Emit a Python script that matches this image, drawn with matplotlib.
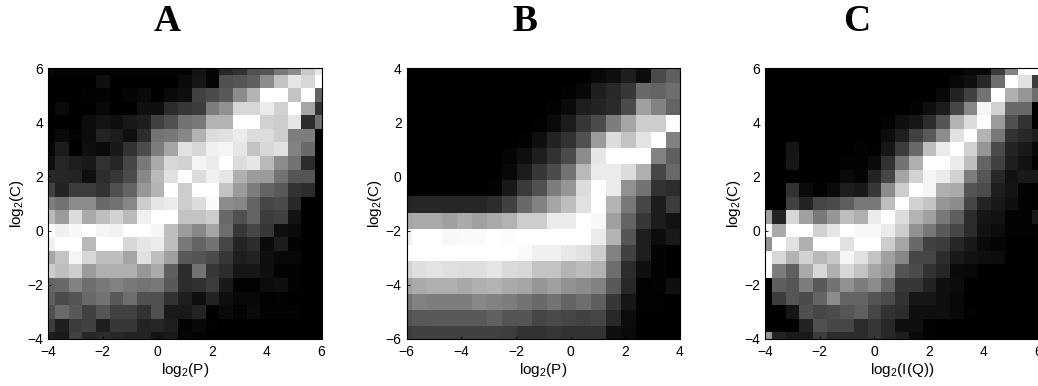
import matplotlib

matplotlib.use("Agg")
import matplotlib.pyplot as plt
import numpy as np

plt.rcParams["font.family"] = ["Liberation Sans", "DejaVu Sans"]
plt.rcParams["mathtext.default"] = "regular"

# grey levels, top row first
panel_a = [
    [8, 3, 3, 3, 3, 3, 3, 3, 3, 3, 3, 20, 5, 40, 50, 80, 85, 120, 140, 200, 230],
    [0, 0, 0, 0, 15, 0, 0, 0, 0, 0, 10, 22, 5, 80, 85, 95, 140, 195, 230, 215, 255],
    [0, 0, 0, 2, 2, 0, 5, 10, 0, 10, 15, 65, 75, 90, 140, 180, 255, 255, 195, 255, 100],
    [0, 10, 0, 0, 8, 0, 0, 15, 15, 45, 55, 60, 125, 145, 215, 215, 235, 210, 255, 165, 50],
    [0, 0, 0, 12, 20, 15, 25, 30, 65, 80, 115, 120, 180, 180, 255, 255, 210, 205, 230, 45, 110],
    [0, 10, 3, 12, 35, 28, 15, 45, 115, 120, 135, 180, 220, 225, 235, 220, 220, 205, 125, 125, 0],
    [5, 28, 0, 15, 10, 25, 50, 75, 125, 165, 225, 215, 240, 245, 230, 195, 215, 225, 130, 105, 0],
    [15, 38, 30, 25, 50, 38, 70, 120, 170, 215, 210, 245, 235, 255, 220, 230, 185, 140, 115, 45, 0],
    [40, 38, 35, 15, 45, 55, 75, 135, 185, 225, 255, 220, 240, 230, 175, 155, 155, 115, 85, 85, 0],
    [65, 35, 60, 60, 50, 80, 100, 150, 180, 255, 205, 255, 255, 195, 155, 125, 100, 90, 50, 45, 0],
    [125, 115, 140, 140, 105, 115, 135, 205, 230, 235, 205, 220, 250, 140, 135, 100, 70, 75, 40, 0, 0],
    [185, 155, 220, 170, 190, 210, 185, 240, 255, 255, 195, 195, 205, 105, 80, 100, 60, 65, 18, 0, 0],
    [255, 240, 248, 255, 245, 242, 255, 255, 245, 190, 155, 135, 165, 110, 55, 70, 55, 15, 10, 0, 0],
    [240, 255, 255, 185, 255, 255, 215, 230, 235, 190, 120, 100, 115, 70, 35, 45, 10, 28, 3, 0, 0],
    [165, 195, 245, 215, 190, 190, 165, 225, 190, 160, 90, 85, 75, 55, 30, 35, 15, 8, 8, 0, 0],
    [205, 190, 205, 155, 175, 175, 175, 150, 170, 95, 45, 115, 55, 45, 22, 22, 15, 3, 3, 0, 0],
    [100, 105, 130, 110, 120, 130, 120, 115, 120, 90, 45, 48, 60, 25, 2, 2, 12, 15, 3, 0, 0],
    [95, 75, 85, 105, 115, 90, 110, 80, 80, 50, 30, 15, 35, 15, 8, 8, 2, 3, 0, 0, 0],
    [80, 105, 90, 65, 85, 65, 65, 50, 80, 25, 25, 35, 0, 10, 3, 10, 3, 3, 3, 0, 0],
    [60, 30, 60, 65, 30, 55, 55, 35, 38, 30, 3, 8, 2, 0, 0, 0, 0, 0, 0, 0, 0],
    [30, 25, 65, 40, 45, 40, 35, 35, 20, 25, 5, 3, 0, 0, 0, 0, 0, 0, 0, 0, 0],
]

panel_b = [
    [0, 0, 0, 0, 0, 0, 0, 0, 0, 0, 0, 0, 0, 8, 15, 30, 12, 75, 95],
    [0, 0, 0, 0, 0, 0, 0, 0, 0, 0, 0, 2, 8, 30, 40, 55, 105, 100, 110],
    [0, 0, 0, 0, 0, 0, 0, 0, 0, 0, 2, 10, 30, 35, 42, 75, 160, 130, 100],
    [0, 0, 0, 0, 0, 0, 0, 0, 0, 2, 10, 28, 55, 75, 125, 165, 205, 205, 255],
    [0, 0, 0, 0, 0, 0, 0, 0, 2, 15, 35, 50, 80, 155, 220, 195, 228, 255, 130],
    [0, 0, 0, 0, 0, 0, 0, 5, 15, 30, 50, 75, 140, 230, 255, 255, 255, 130, 95],
    [0, 0, 0, 0, 0, 0, 0, 8, 28, 55, 75, 115, 185, 235, 235, 220, 175, 70, 105],
    [0, 0, 0, 0, 0, 0, 3, 25, 58, 80, 125, 150, 220, 255, 235, 145, 115, 50, 45],
    [35, 38, 38, 38, 38, 38, 45, 65, 105, 130, 165, 190, 225, 255, 180, 120, 70, 28, 60],
    [165, 170, 170, 160, 170, 160, 170, 180, 205, 205, 235, 235, 255, 248, 160, 100, 55, 28, 18],
    [240, 255, 255, 248, 250, 250, 255, 252, 255, 255, 255, 255, 255, 235, 180, 85, 30, 12, 25],
    [255, 255, 255, 255, 255, 255, 255, 255, 250, 240, 240, 232, 225, 205, 130, 65, 30, 3, 0],
    [210, 222, 228, 224, 222, 222, 230, 218, 215, 195, 195, 180, 188, 178, 110, 45, 15, 3, 0],
    [160, 170, 175, 175, 168, 175, 180, 170, 165, 150, 160, 145, 140, 130, 90, 40, 2, 3, 15],
    [115, 130, 125, 125, 125, 135, 130, 125, 115, 105, 115, 100, 110, 95, 55, 22, 2, 2, 0],
    [80, 88, 90, 90, 90, 90, 98, 85, 85, 70, 75, 70, 65, 70, 40, 12, 0, 0, 0],
    [60, 65, 65, 65, 65, 65, 65, 62, 50, 50, 55, 50, 50, 50, 15, 10, 0, 0, 0],
]

panel_c = [
    [0, 0, 0, 0, 0, 0, 0, 0, 0, 0, 0, 0, 0, 0, 0, 8, 8, 60, 130, 255, 255],
    [0, 0, 0, 0, 0, 0, 0, 0, 0, 0, 0, 0, 0, 0, 8, 15, 40, 110, 255, 225, 60],
    [0, 0, 0, 0, 0, 0, 0, 0, 0, 0, 0, 0, 0, 8, 35, 65, 115, 255, 175, 150, 110],
    [0, 0, 0, 0, 0, 0, 0, 0, 0, 0, 0, 3, 15, 28, 70, 135, 245, 210, 105, 105, 0],
    [0, 0, 0, 0, 0, 0, 0, 0, 0, 3, 15, 22, 45, 85, 180, 220, 255, 155, 80, 50, 0],
    [0, 0, 0, 0, 0, 0, 0, 0, 0, 12, 30, 65, 90, 140, 225, 255, 180, 120, 50, 40, 30],
    [0, 0, 20, 0, 0, 0, 0, 3, 2, 22, 60, 105, 190, 235, 255, 210, 150, 75, 35, 25, 8],
    [0, 0, 22, 0, 0, 0, 3, 3, 10, 50, 115, 175, 255, 255, 235, 190, 100, 65, 30, 18, 3],
    [0, 0, 0, 0, 0, 0, 10, 5, 35, 70, 165, 210, 245, 235, 210, 125, 85, 40, 18, 25, 25],
    [0, 0, 50, 10, 2, 10, 30, 25, 55, 140, 205, 255, 245, 175, 170, 85, 75, 30, 20, 3, 0],
    [0, 0, 65, 35, 70, 75, 95, 120, 120, 190, 255, 210, 195, 150, 140, 70, 35, 25, 15, 3, 0],
    [160, 35, 215, 160, 120, 150, 190, 175, 235, 255, 220, 180, 160, 120, 95, 45, 22, 18, 3, 3, 25],
    [255, 170, 255, 255, 210, 230, 255, 248, 248, 235, 205, 145, 120, 90, 70, 45, 18, 12, 3, 3, 3],
    [145, 255, 225, 175, 255, 255, 225, 255, 255, 205, 165, 105, 65, 60, 38, 25, 10, 5, 0, 0, 0],
    [255, 215, 180, 210, 185, 200, 245, 225, 195, 160, 135, 70, 70, 45, 25, 18, 15, 12, 0, 0, 0],
    [255, 125, 95, 170, 215, 175, 215, 195, 165, 150, 85, 75, 50, 38, 10, 8, 0, 0, 0, 0, 0],
    [0, 95, 85, 125, 90, 115, 145, 125, 140, 105, 55, 55, 35, 15, 12, 0, 0, 0, 0, 0, 0],
    [0, 60, 85, 75, 100, 140, 100, 100, 85, 75, 50, 22, 22, 15, 8, 0, 0, 0, 0, 0, 0],
    [0, 0, 22, 80, 70, 75, 85, 95, 70, 50, 45, 15, 15, 15, 8, 2, 0, 0, 0, 0, 0],
    [0, 0, 0, 35, 80, 70, 70, 45, 55, 40, 15, 15, 3, 0, 0, 0, 0, 0, 0, 0, 0],
    [150, 35, 25, 25, 60, 45, 45, 45, 55, 40, 30, 10, 3, 0, 0, 0, 0, 0, 0, 0, 0],
]

titles = ["A", "B", "C"]
x_labels = ["log$_2$(P)", "log$_2$(P)", "log$_2$(I(Q))"]
limits_a = (-4, 6)
limits_b = (-6, 4)
ticks_a = [-4, -2, 0, 2, 4, 6]
ticks_b = [-6, -4, -2, 0, 2, 4]

W, H = 1038, 386
fig = plt.figure(figsize=(W / 100, H / 100), dpi=100)


def add_panel(left, data, extent, limits, ticks, title, title_x, xlabel):
    ax = fig.add_axes([left / W, 1 - 339 / H, 273.5 / W, 271 / H])
    ax.imshow(np.array(data), cmap="gray", vmin=0, vmax=255, aspect="auto",
              interpolation="nearest", extent=extent)
    ax.set_xlim(limits)
    ax.set_ylim(limits)
    ax.set_xticks(ticks)
    ax.set_yticks(ticks)
    ax.tick_params(direction="in", length=2.5, width=0.6, labelsize=10)
    ax.tick_params(axis="x", pad=4.5)
    ax.tick_params(axis="y", pad=3.5)
    for side in ax.spines.values():
        side.set_linewidth(0.8)
    ax.set_xlabel(xlabel, fontsize=11, labelpad=1.5)
    ax.set_ylabel("log$_2$(C)", fontsize=11, labelpad=1)
    fig.text(title_x / W, 1 - 31 / H, title, family="Liberation Serif",
             weight="bold", fontsize=27, ha="center", va="baseline")
    return ax


add_panel(48, panel_a, (-4.25, 6.25, -4.25, 6.25), limits_a, ticks_a,
          titles[0], 167, x_labels[0])
# panel B has coarser cells, not centred on the ticks
add_panel(406.5, panel_b, (-6.36, 4.0, -6.13, 4.05), limits_b, ticks_b,
          titles[1], 525, x_labels[1])
add_panel(765, panel_c, (-4.25, 6.25, -4.25, 6.25), limits_a, ticks_a,
          titles[2], 857, x_labels[2])

fig.savefig("out.png", dpi=100)
